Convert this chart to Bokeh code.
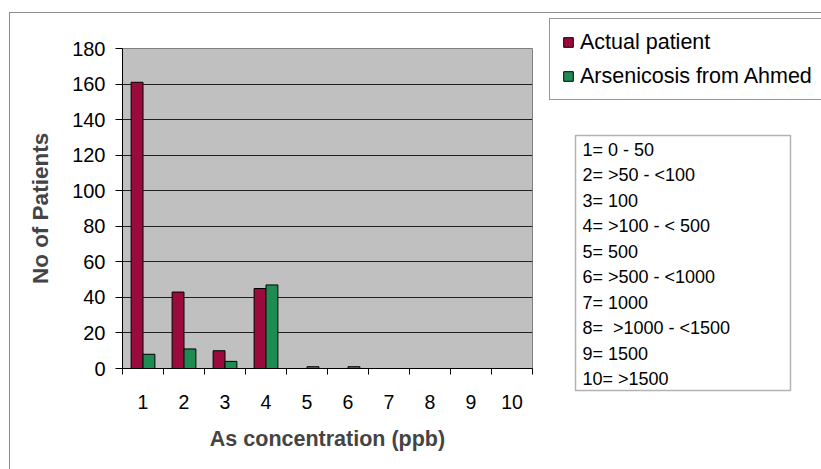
from bokeh.plotting import figure
from bokeh.layouts import row
from bokeh.models import (ColumnDataSource, FixedTicker, Legend, LegendItem,
                          Label, BoxAnnotation, Range1d)
from bokeh.embed import file_html
from bokeh.resources import INLINE

# Concentration class index (see key box for the ranges in ppb)
categories = [1, 2, 3, 4, 5, 6, 7, 8, 9, 10]
actual_patient = [161, 43, 10, 45, 0, 0, 0, 0, 0, 0]
arsenicosis_ahmed = [8, 11, 4, 47, 1, 1, 0, 0, 0, 0]

y_ticks = [0, 20, 40, 60, 80, 100, 120, 140, 160, 180]

key_lines = [
    "1= 0 - 50",
    "2= >50 - <100",
    "3= 100",
    "4= >100 - < 500",
    "5= 500",
    "6= >500 - <1000",
    "7= 1000",
    "8=\u00a0 >1000 - <1500",
    "9= 1500",
    "10= >1500",
]

series_names = ["Actual patient", "Arsenicosis from Ahmed"]
series_colors = ["#9A0A3C", "#1E8C52"]

FONT = "Liberation Sans"
PAGE_W, PAGE_H = 821, 469
OX, OY = 10, 13            # chart area starts inside the outer border
SPLIT = 548                # page x where the side panel (legend + key) begins

# ---------------- main bar chart ----------------
p = figure(width=SPLIT - OX, height=PAGE_H - OY,
           output_backend="svg", toolbar_location=None,
           x_range=Range1d(0.5, 10.5), y_range=Range1d(0, 180),
           min_border_left=122 - OX, min_border_right=SPLIT - 532,
           min_border_top=48 - OY, min_border_bottom=PAGE_H - 368)
p.frame_align = False

p.background_fill_color = "#C0C0C0"
p.border_fill_color = "white"
p.outline_line_color = "#808080"
p.outline_line_width = 1

bar_w = 0.29
off = 0.145
src = ColumnDataSource(dict(
    x_a=[c - off for c in categories],
    x_b=[c + off for c in categories],
    actual=actual_patient,
    ahmed=arsenicosis_ahmed,
))
p.vbar(x="x_a", top="actual", width=bar_w, bottom=0, source=src,
       fill_color=series_colors[0], line_color="black", line_width=1)
p.vbar(x="x_b", top="ahmed", width=bar_w, bottom=0, source=src,
       fill_color=series_colors[1], line_color="black", line_width=1)

p.xgrid.visible = False
p.ygrid.ticker = FixedTicker(ticks=y_ticks)
p.ygrid.grid_line_color = "#202020"
p.ygrid.grid_line_width = 1

p.yaxis.ticker = FixedTicker(ticks=y_ticks)
p.yaxis.axis_label = "No of Patients"
p.yaxis.axis_label_text_font = FONT
p.yaxis.axis_label_text_font_style = "bold"
p.yaxis.axis_label_text_font_size = "22.5px"
p.yaxis.axis_label_standoff = 16
p.yaxis.major_label_text_font = FONT
p.yaxis.major_label_text_font_size = "20px"
p.yaxis.major_label_text_color = "black"
p.yaxis.major_label_standoff = 10
p.yaxis.major_tick_out = 7
p.yaxis.major_tick_in = 0
p.yaxis.minor_tick_out = 0
p.yaxis.minor_tick_in = 0
p.yaxis.axis_line_color = "black"
p.yaxis.major_tick_line_color = "black"

# labels at category centres, tick marks between categories
p.xaxis.ticker = FixedTicker(ticks=categories,
                             minor_ticks=[c - 0.5 for c in categories] + [10.5])
p.xaxis.axis_label = "As concentration (ppb)"
p.xaxis.axis_label_text_font = FONT
p.xaxis.axis_label_text_font_style = "bold"
p.xaxis.axis_label_text_font_size = "21.5px"
p.xaxis.axis_label_standoff = 15
p.xaxis.major_label_text_font = FONT
p.xaxis.major_label_text_font_size = "19.5px"
p.xaxis.major_label_text_color = "black"
p.xaxis.major_label_standoff = 20
p.xaxis.major_tick_out = 0
p.xaxis.major_tick_in = 0
p.xaxis.minor_tick_out = 6
p.xaxis.minor_tick_in = 0
p.xaxis.minor_tick_line_color = "black"
p.xaxis.axis_line_color = "black"

# ---------------- side panel: series legend + class key ----------------
# data coordinates of this panel equal page pixel coordinates
side = figure(width=PAGE_W - SPLIT, height=PAGE_H - OY,
              output_backend="svg", toolbar_location=None,
              x_range=Range1d(SPLIT, PAGE_W), y_range=Range1d(PAGE_H, OY),
              min_border=0, min_border_left=0, min_border_right=0,
              min_border_top=0, min_border_bottom=0)
side.frame_align = False
side.axis.visible = False
side.grid.visible = False
side.outline_line_color = None
side.background_fill_color = "white"
side.border_fill_color = "white"

# swatch renderers for the legend (their single point sits outside the view)
legend_items = []
for name, color in zip(series_names, series_colors):
    r = side.scatter(x=[0], y=[0], marker="square", size=10,
                     fill_color=color, line_color="black")
    legend_items.append(LegendItem(label=name, renderers=[r]))

legend = Legend(items=legend_items, location=(549 - SPLIT, PAGE_H - 100),
                orientation="vertical",
                border_line_color="#303030", border_line_width=1,
                background_fill_color="white", background_fill_alpha=1,
                label_text_font=FONT, label_text_font_size="21.5px",
                label_text_color="black",
                padding=6, glyph_width=24, glyph_height=34,
                label_height=34, spacing=0, label_standoff=0,
                label_width=300, margin=0)
side.add_layout(legend, "center")

side.add_layout(BoxAnnotation(left=575, right=790, top=135, bottom=390,
                              fill_color="white", fill_alpha=1,
                              line_color="black", line_width=1.5))
row_y = [149, 174.5, 200, 225.5, 251, 276.5, 302, 327.5, 353, 378.5]
for text, yy in zip(key_lines, row_y):
    side.add_layout(Label(x=582, y=yy, text=text, text_font=FONT,
                          text_font_size="18px", text_color="black",
                          text_baseline="middle", text_align="left"))

layout = row(p, side, margin=(OY - 1, 0, 0, OX - 1), spacing=0,
             styles={"border-left": "1px solid #8C8C8C",
                     "border-top": "1px solid #8C8C8C"})

open("out.html", "w").write(file_html(layout, INLINE))
